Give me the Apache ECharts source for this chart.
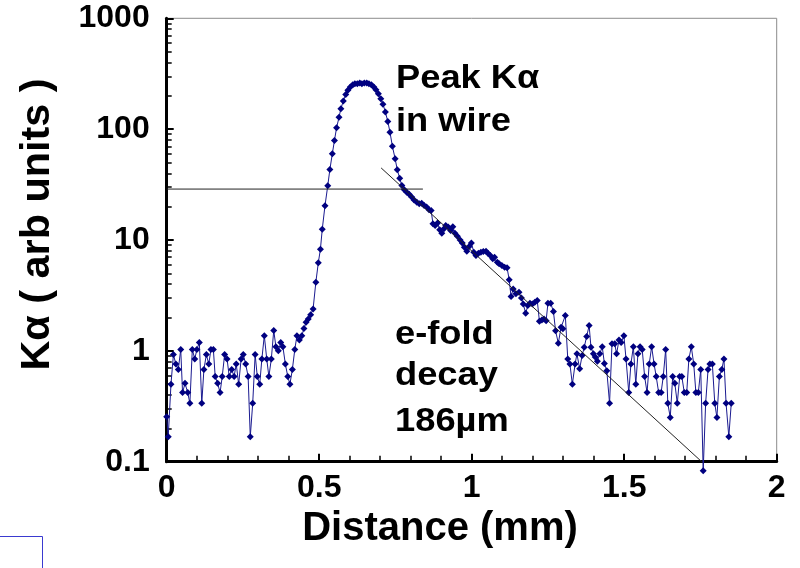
<!DOCTYPE html>
<html><head><meta charset="utf-8">
<script src="https://cdn.jsdelivr.net/npm/echarts@6/dist/echarts.min.js"></script>
<style>html,body{margin:0;padding:0;background:#fff}#c{width:800px;height:568px}</style>
</head><body><div id="c"></div>
<script>
// Distance along the wire (mm)
const distanceMm = [
0.000,0.005,0.014,0.022,0.030,0.038,0.046,0.052,0.060,0.069,
0.076,0.084,0.092,0.099,0.107,0.115,0.122,0.130,0.138,0.145,
0.153,0.159,0.167,0.175,0.182,0.190,0.198,0.205,0.213,0.221,
0.228,0.236,0.244,0.251,0.259,0.267,0.274,0.282,0.290,0.297,
0.305,0.312,0.320,0.328,0.335,0.343,0.351,0.358,0.366,0.374,
0.381,0.389,0.397,0.404,0.412,0.420,0.427,0.435,0.443,0.450,
0.457,0.464,0.472,0.480,
0.489,0.497,0.504,0.510,0.519,0.528,0.535,0.543,0.550,0.557,
0.565,0.571,0.579,0.587,0.594,0.602,0.610,0.617,0.625,0.633,
0.640,0.648,0.656,0.663,0.671,0.679,0.686,0.694,0.702,0.709,
0.717,0.725,0.732,0.740,0.749,0.756,0.764,0.771,0.779,0.787,
0.795,0.803,0.811,0.820,0.828,0.836,0.844,0.852,0.860,0.867,
0.873,0.880,0.888,0.895,0.902,0.909,0.915,0.923,0.931,0.938,
0.945,0.953,0.962,0.969,0.976,0.984,0.991,0.999,1.007,1.014,
1.022,1.030,1.038,1.047,1.053,1.061,1.069,1.075,1.084,1.090,
1.099,1.108,1.116,
1.123,1.129,1.136,1.145,1.155,1.163,1.169,1.177,1.184,1.191,
1.199,1.207,1.215,1.222,1.230,1.237,1.244,1.250,1.259,1.268,
1.275,1.284,1.293,1.299,1.307,1.315,1.322,1.330,1.339,1.345,
1.354,1.362,1.369,1.377,1.385,1.391,1.399,1.405,1.412,1.420,
1.428,1.435,1.443,1.452,1.460,1.469,1.475,1.483,1.490,1.499,
1.506,1.515,1.522,1.530,1.538,1.545,1.552,1.559,1.567,1.575,
1.582,1.590,1.598,1.605,1.613,1.621,1.628,1.636,1.643,1.651,
1.659,1.666,1.674,1.682,1.689,1.697,1.705,1.712,1.720,1.728,
1.735,1.743,1.751,1.759,1.767,1.775,1.781,1.789,1.797,1.804,
1.812,1.820,1.827,1.834,1.843,1.851
];
// K-alpha signal (arb units)
const kAlpha = [
0.255,0.168,0.50,0.925,0.76,0.68,1.03,0.42,0.51,0.42,
0.336,1.03,0.845,1.03,1.19,0.336,0.68,0.925,0.76,1.03,
1.03,0.586,0.51,0.42,0.586,0.925,0.845,0.586,0.68,0.586,
0.76,0.50,0.845,0.925,0.76,0.586,0.168,0.336,0.925,0.586,
0.50,0.845,1.37,0.845,0.586,0.845,1.53,1.09,1.0,1.19,
1.09,0.76,0.586,0.50,0.68,1.03,1.37,1.25,1.37,1.59,
1.81,1.94,2.12,2.39,
4.16,6.22,8.26,12.5,20.4,30.8,43.3,60,79,103,
128,153,179,205,224,240,252,257,257,261,
257,261,261,257,252,240,227,209,188,168,
143,117,94,70,54,43,36,31,28.4,27,
25.8,24.4,23,21.9,21.2,21.5,20.5,19.8,18.7,18.5,
14,13.5,14.2,12.4,11.5,12.6,13.5,13.1,12.2,13.2,
11.5,10.8,10.0,9.4,8.6,7.9,8.7,9.4,7.76,7.24,
7.6,7.76,7.87,7.9,7.6,7.24,6.76,7.0,6.3,6.1,
5.89,5.68,5.61,
4.37,3.09,3.62,3.27,3.38,3.0,2.65,2.18,2.56,2.69,
2.65,2.74,2.84,1.85,1.9,1.94,1.87,2.69,2.69,2.26,
1.52,1.17,1.63,1.58,2.08,0.845,0.76,0.5,0.76,0.94,
0.69,0.906,1.08,1.35,1.69,1.08,0.94,0.88,0.806,0.94,
1.09,0.77,0.66,0.336,1.16,1.16,0.94,1.25,1.19,1.37,
0.845,0.42,0.76,1.09,0.5,0.94,1.09,1.03,0.586,0.42,
0.76,1.09,0.76,0.586,0.42,0.42,0.586,1.03,0.336,0.25,
0.586,0.51,0.336,0.586,0.586,0.42,0.42,0.845,1.09,0.76,
0.42,0.42,0.68,0.083,0.336,0.68,0.76,0.76,0.336,0.25,
0.586,0.68,0.845,0.336,0.168,0.336
];
// Reference lines (x in mm, y in arb units)
const plateauX = [0, 0.84];
const plateauY = [28.8, 28.8];
const decayX = [0.703, 1.754];
const decayY = [44.7, 0.1];
// Axis ranges
const xRange = [0, 2];
const yRange = [0.1, 1000];

const FONT = "'Liberation Sans', Arial, sans-serif";
const chart = echarts.init(document.getElementById('c'), null, {renderer: 'canvas'});

const pts = distanceMm.map((x, i) => [x, kAlpha[i]]);
const plateau = plateauX.map((x, i) => [x, plateauY[i]]);
const decay = decayX.map((x, i) => [x, decayY[i]]);

const labelStyle = {fontSize: 32, fontWeight: 'bold', color: '#000', fontFamily: FONT};
const annot = (text, x, y) => ({type: 'text', x: x, y: y, scaleX: 1.1,
  style: {text: text, fontSize: 33, fontWeight: 'bold', fontFamily: FONT,
          fill: '#000', align: 'left', verticalAlign: 'middle'}});

chart.setOption({
  animation: false,
  backgroundColor: '#fff',
  grid: {left: 166.7, right: 23.3, top: 18.3, bottom: 106.3, show: true,
         borderColor: '#8c8c8c', borderWidth: 1, backgroundColor: 'transparent'},
  xAxis: {
    type: 'value', min: xRange[0], max: xRange[1], interval: 0.5,
    axisLine: {onZero: false, lineStyle: {color: '#000', width: 3}},
    axisTick: {show: true, inside: true, length: 8, lineStyle: {color: '#000', width: 2}},
    minorTick: {show: true, splitNumber: 5, length: 6, lineStyle: {color: '#000', width: 1.5}},
    splitLine: {show: false},
    axisLabel: Object.assign({margin: 10}, labelStyle)
  },
  yAxis: {
    type: 'log', logBase: 10, min: yRange[0], max: yRange[1],
    axisLine: {show: true, onZero: false, lineStyle: {color: '#000', width: 3}},
    axisTick: {show: true, inside: true, length: 7, lineStyle: {color: '#000', width: 2}},
    minorTick: {show: true, splitNumber: 9, length: 5, lineStyle: {color: '#000', width: 1.5}},
    splitLine: {show: false},
    axisLabel: Object.assign({margin: 17, padding: [9, 0, 0, 0],
      formatter: v => String(Math.round(v * 10) / 10)}, labelStyle)
  },
  series: [
    {type: 'line', data: pts, clip: false, symbol: 'diamond', symbolSize: 7,
     itemStyle: {color: '#000080'}, lineStyle: {color: '#1a1a90', width: 1}, z: 2},
    {type: 'line', data: plateau, showSymbol: false, symbol: 'none',
     lineStyle: {color: '#222', width: 1}, z: 3},
    {type: 'line', data: decay, showSymbol: false, symbol: 'none',
     lineStyle: {color: '#222', width: 1}, z: 3}
  ],
  graphic: [
    {type: 'text', x: 37.8, y: 224.5, rotation: Math.PI / 2, scaleX: 1.035,
     style: {text: 'K\u03b1 ( arb units )', fontSize: 40, fontWeight: 'bold', fontFamily: FONT,
             fill: '#000', align: 'center', verticalAlign: 'middle'}},
    {type: 'text', x: 440, y: 529,
     style: {text: 'Distance (mm)', fontSize: 40, fontWeight: 'bold', fontFamily: FONT,
             fill: '#000', align: 'center', verticalAlign: 'middle'}},
    annot('Peak K\u03b1', 396, 78.6),
    annot('in wire', 396, 121.9),
    annot('e-fold', 395, 335.3),
    annot('decay', 395, 376),
    annot('186\u00b5m', 395, 422),
    {type: 'polyline', shape: {points: [[0, 536.5], [42.5, 536.5], [42.5, 570]]},
     style: {stroke: '#3a3ad0', lineWidth: 1, fill: null}}
  ]
});
</script>
</body></html>
